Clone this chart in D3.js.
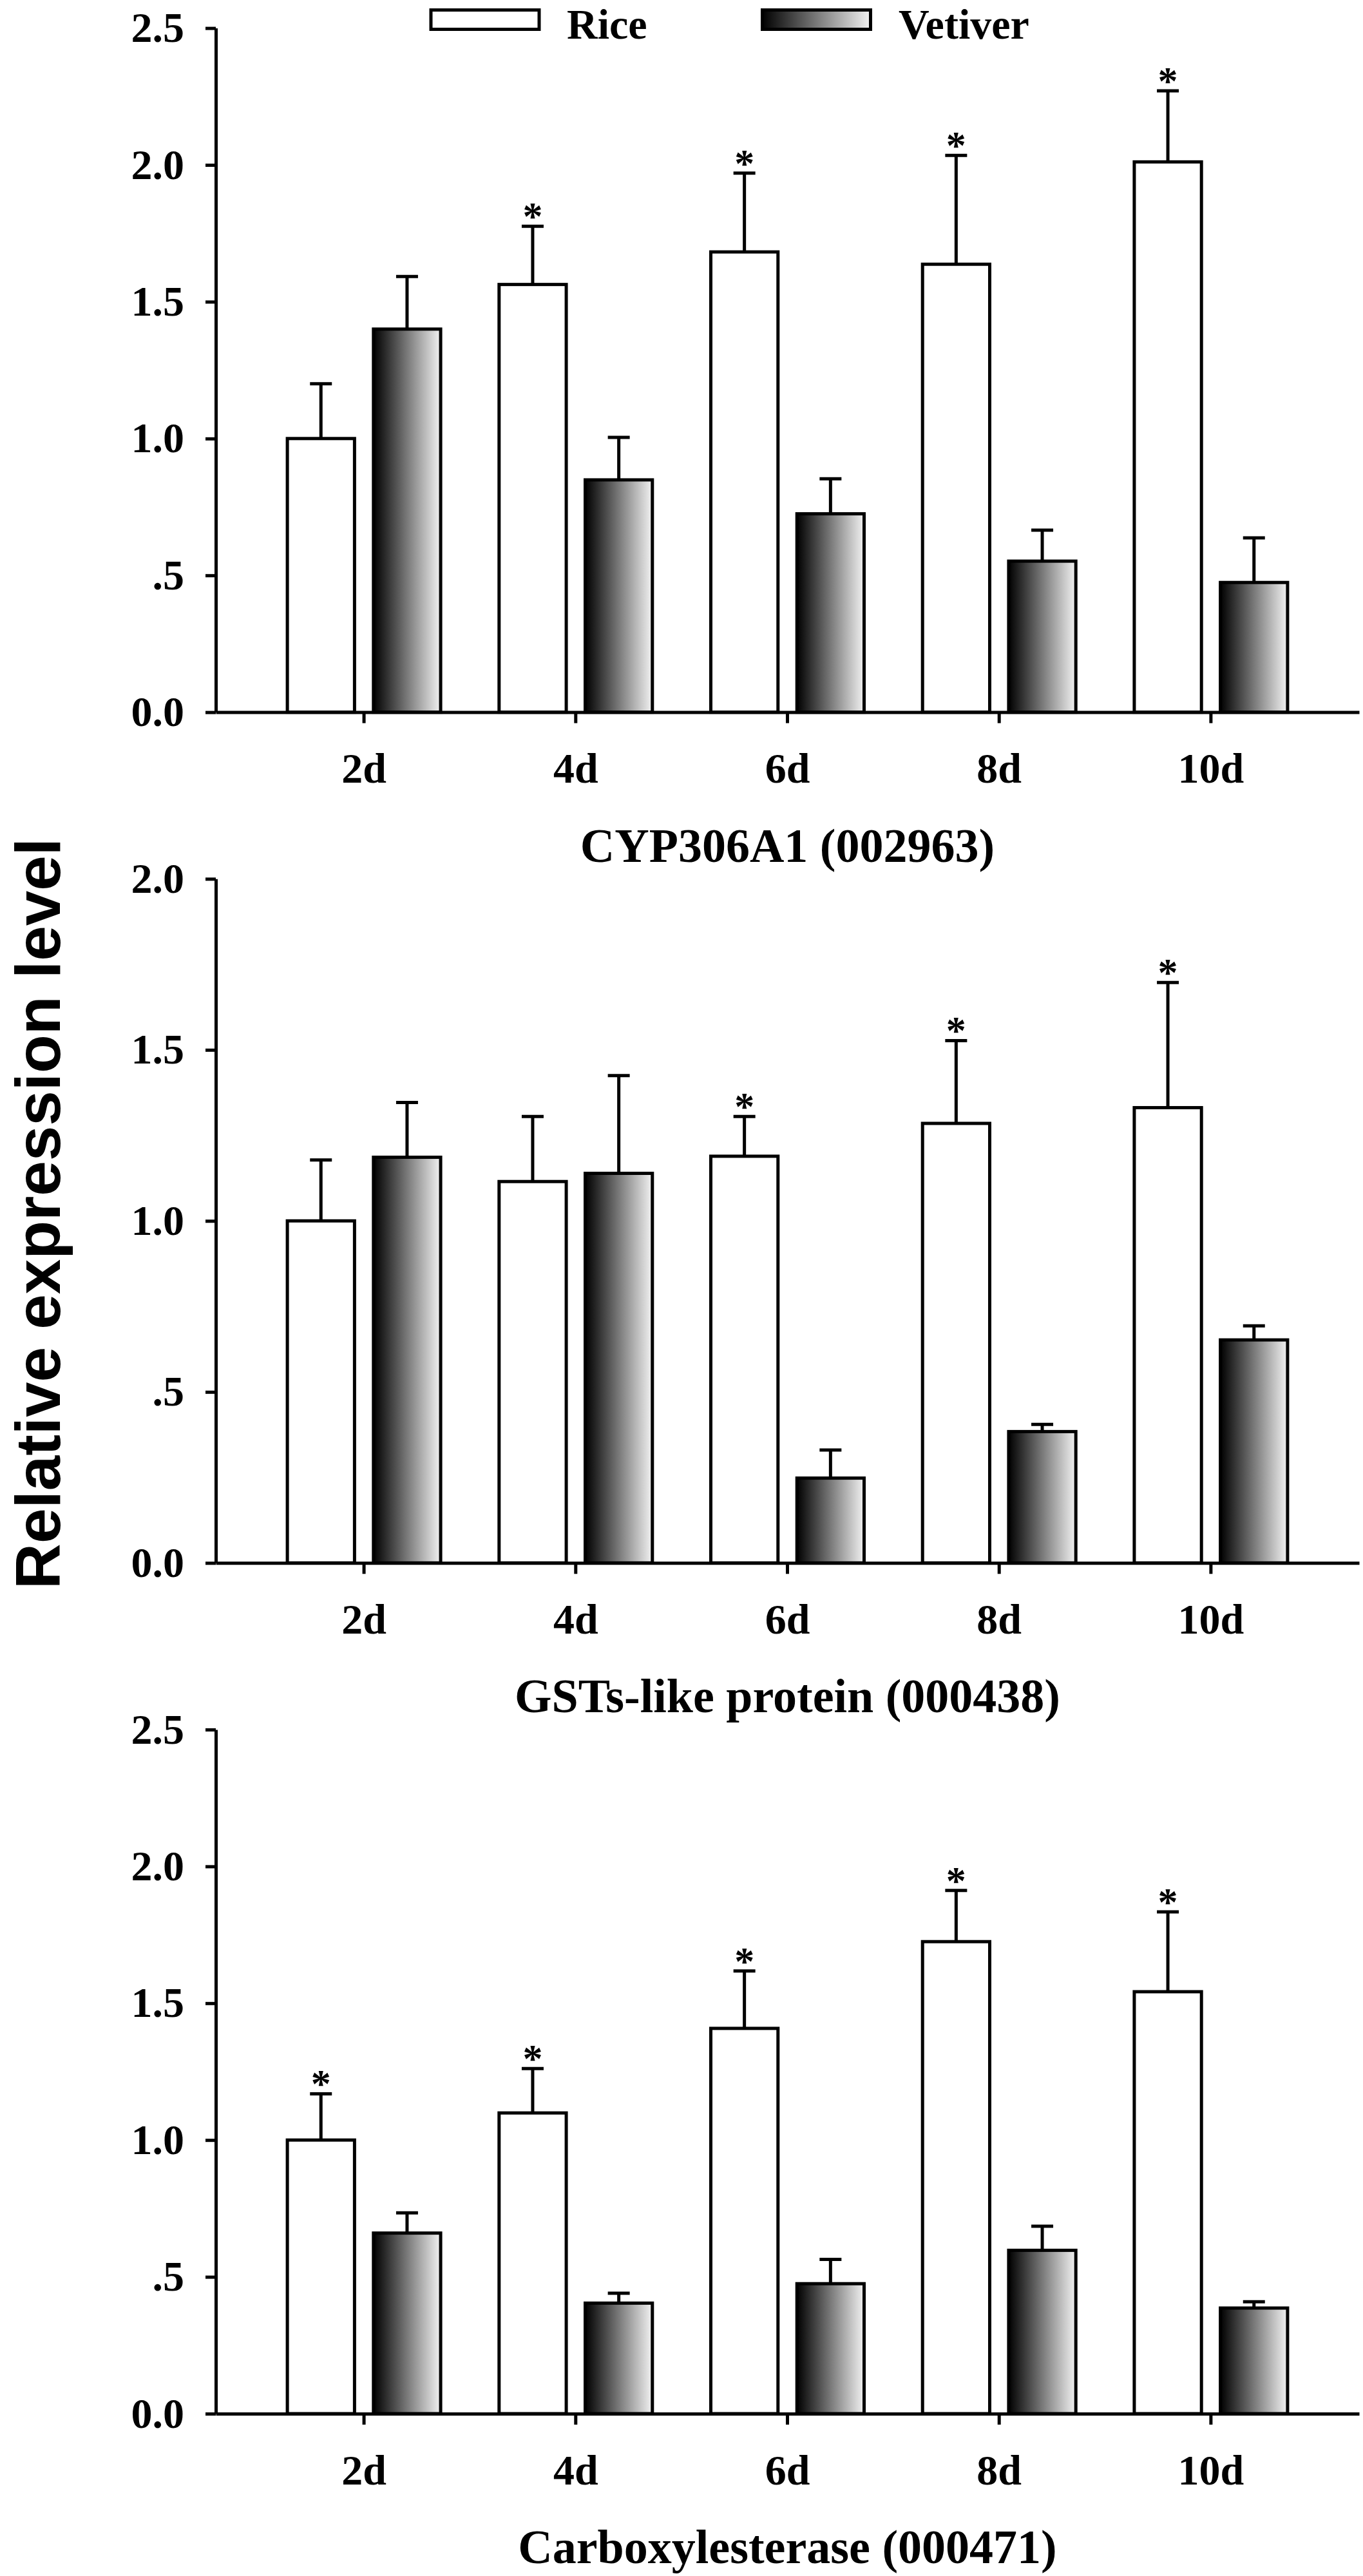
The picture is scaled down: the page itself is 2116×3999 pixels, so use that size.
<!DOCTYPE html>
<html>
<head>
<meta charset="utf-8">
<script src="https://cdn.jsdelivr.net/npm/d3@7"></script>
<style>
  body { margin: 0; background: #fff; }
  svg { display: block; }
  .serif { font-family: "Liberation Serif", "Times New Roman", serif; font-weight: bold; }
</style>
</head>
<body>
<div id="chart"></div>
<script>
const categories = ["2d", "4d", "6d", "8d", "10d"];
const series = ["Rice", "Vetiver"];
const genes = ["CYP306A1 (002963)", "GSTs-like protein (000438)", "Carboxylesterase (000471)"];
const yMaxes = [2.5, 2.0, 2.5];

// CYP306A1
const cypRice = [1.00, 1.563, 1.682, 1.637, 2.011];
const cypRiceErr = [0.20, 0.213, 0.288, 0.398, 0.26];
const cypVet = [1.40, 0.849, 0.725, 0.552, 0.474];
const cypVetErr = [0.192, 0.155, 0.128, 0.113, 0.163];
const cypSig = [false, true, true, true, true];

// GSTs-like protein
const gstRice = [1.00, 1.115, 1.189, 1.285, 1.331];
const gstRiceErr = [0.178, 0.19, 0.116, 0.242, 0.366];
const gstVet = [1.186, 1.139, 0.248, 0.384, 0.652];
const gstVetErr = [0.16, 0.286, 0.082, 0.021, 0.041];
const gstSig = [false, false, true, true, true];

// Carboxylesterase
const carRice = [1.00, 1.099, 1.408, 1.725, 1.542];
const carRiceErr = [0.169, 0.162, 0.21, 0.187, 0.292];
const carVet = [0.660, 0.404, 0.475, 0.597, 0.386];
const carVetErr = [0.074, 0.036, 0.089, 0.088, 0.023];
const carSig = [true, true, true, true, true];

const yTicks = [
  [0, 0.5, 1.0, 1.5, 2.0, 2.5],
  [0, 0.5, 1.0, 1.5, 2.0],
  [0, 0.5, 1.0, 1.5, 2.0, 2.5]
];

const panels = [
  { rice: cypRice, riceErr: cypRiceErr, vet: cypVet, vetErr: cypVetErr, sig: cypSig },
  { rice: gstRice, riceErr: gstRiceErr, vet: gstVet, vetErr: gstVetErr, sig: gstSig },
  { rice: carRice, riceErr: carRiceErr, vet: carVet, vetErr: carVetErr, sig: carSig }
].map((p, i) => ({ ...p, gene: genes[i], yMax: yMaxes[i], ticks: yTicks[i] }));

const W = 2116, H = 3999;
const left = 335, right = 2110;
const panelTop = [43.6, 1364.3, 2685];
const panelH = 1062;

const svg = d3.select("#chart").append("svg")
  .attr("width", W).attr("height", H);

const grad = svg.append("defs").append("linearGradient")
  .attr("id", "vetGrad")
  .attr("x1", "0%").attr("x2", "100%").attr("y1", "0%").attr("y2", "0%");
grad.append("stop").attr("offset", "0%").attr("stop-color", "#000");
grad.append("stop").attr("offset", "100%").attr("stop-color", "#f2f2f2");

const fillFor = s => (s === "Rice" ? "#fff" : "url(#vetGrad)");

const x0 = d3.scaleBand()
  .domain(categories)
  .range([left, right])
  .paddingInner(0)
  .paddingOuter(0.2);

const x1 = d3.scaleBand()
  .domain(series)
  .range([x0.bandwidth() * 0.138, x0.bandwidth() * 0.862])
  .paddingInner(0.22);

const fmt = d => (d === 0.5 ? ".5" : d3.format(".1f")(d));

panels.forEach((p, pi) => {
  const top = panelTop[pi];
  const y = d3.scaleLinear().domain([0, p.yMax]).range([top + panelH, top]);
  const g = svg.append("g");

  const rows = categories.map((c, i) => ({
    cat: c,
    bars: [
      { s: "Rice", v: p.rice[i], e: p.riceErr[i], sig: p.sig[i] },
      { s: "Vetiver", v: p.vet[i], e: p.vetErr[i], sig: false }
    ]
  }));

  const grp = g.selectAll(".grp").data(rows).join("g")
    .attr("transform", d => `translate(${x0(d.cat)},0)`);

  const bar = grp.selectAll(".bar").data(d => d.bars).join("g");

  // error bars (upper only)
  bar.append("line")
    .attr("x1", d => x1(d.s) + x1.bandwidth() / 2)
    .attr("x2", d => x1(d.s) + x1.bandwidth() / 2)
    .attr("y1", d => y(d.v))
    .attr("y2", d => y(d.v + d.e))
    .attr("stroke", "#000").attr("stroke-width", 5);
  bar.append("line")
    .attr("x1", d => x1(d.s) + x1.bandwidth() / 2 - 17)
    .attr("x2", d => x1(d.s) + x1.bandwidth() / 2 + 17)
    .attr("y1", d => y(d.v + d.e))
    .attr("y2", d => y(d.v + d.e))
    .attr("stroke", "#000").attr("stroke-width", 5);

  bar.append("rect")
    .attr("x", d => x1(d.s))
    .attr("width", x1.bandwidth())
    .attr("y", d => y(d.v))
    .attr("height", d => y(0) - y(d.v))
    .attr("fill", d => fillFor(d.s))
    .attr("stroke", "#000").attr("stroke-width", 5);

  bar.filter(d => d.sig).append("text")
    .attr("class", "serif")
    .attr("x", d => x1(d.s) + x1.bandwidth() / 2)
    .attr("y", d => y(d.v + d.e) + 5)
    .attr("text-anchor", "middle")
    .attr("font-size", 62)
    .text("*");

  // axes
  const yAxis = g.append("g")
    .attr("transform", `translate(${left},0)`)
    .call(d3.axisLeft(y).tickValues(p.ticks).tickFormat(fmt).tickSize(16).tickSizeOuter(0).tickPadding(33));
  const xAxis = g.append("g")
    .attr("transform", `translate(0,${y(0)})`)
    .call(d3.axisBottom(x0).tickSize(17).tickSizeOuter(0).tickPadding(46));

  [yAxis, xAxis].forEach(a => {
    a.selectAll("path, line").attr("stroke", "#000").attr("stroke-width", 5);
    a.selectAll("text").attr("class", "serif").attr("font-size", 66).attr("fill", "#000");
    a.attr("font-family", null).attr("font-size", null);
  });

  g.append("text")
    .attr("class", "serif")
    .attr("x", (left + right) / 2)
    .attr("y", y(0) + 232)
    .attr("text-anchor", "middle")
    .attr("font-size", 74)
    .text(p.gene);
});

// legend
const legendX = [669, 1183.5];
const leg = svg.append("g").selectAll("g").data(series).join("g")
  .attr("transform", (d, i) => `translate(${legendX[i]},15.5)`);
leg.append("rect")
  .attr("width", 168).attr("height", 30)
  .attr("fill", d => fillFor(d))
  .attr("stroke", "#000").attr("stroke-width", 5);
leg.append("text")
  .attr("class", "serif")
  .attr("x", (d, i) => (i === 0 ? 211 : 211.5))
  .attr("y", 44)
  .attr("font-size", 66)
  .text(d => d);

// shared y label
svg.append("text")
  .attr("transform", "translate(93,1884) rotate(-90)")
  .attr("text-anchor", "middle")
  .attr("font-family", "'Liberation Sans', Arial, sans-serif")
  .attr("font-weight", "bold")
  .attr("font-size", 98)
  .text("Relative expression level");
</script>
</body>
</html>
